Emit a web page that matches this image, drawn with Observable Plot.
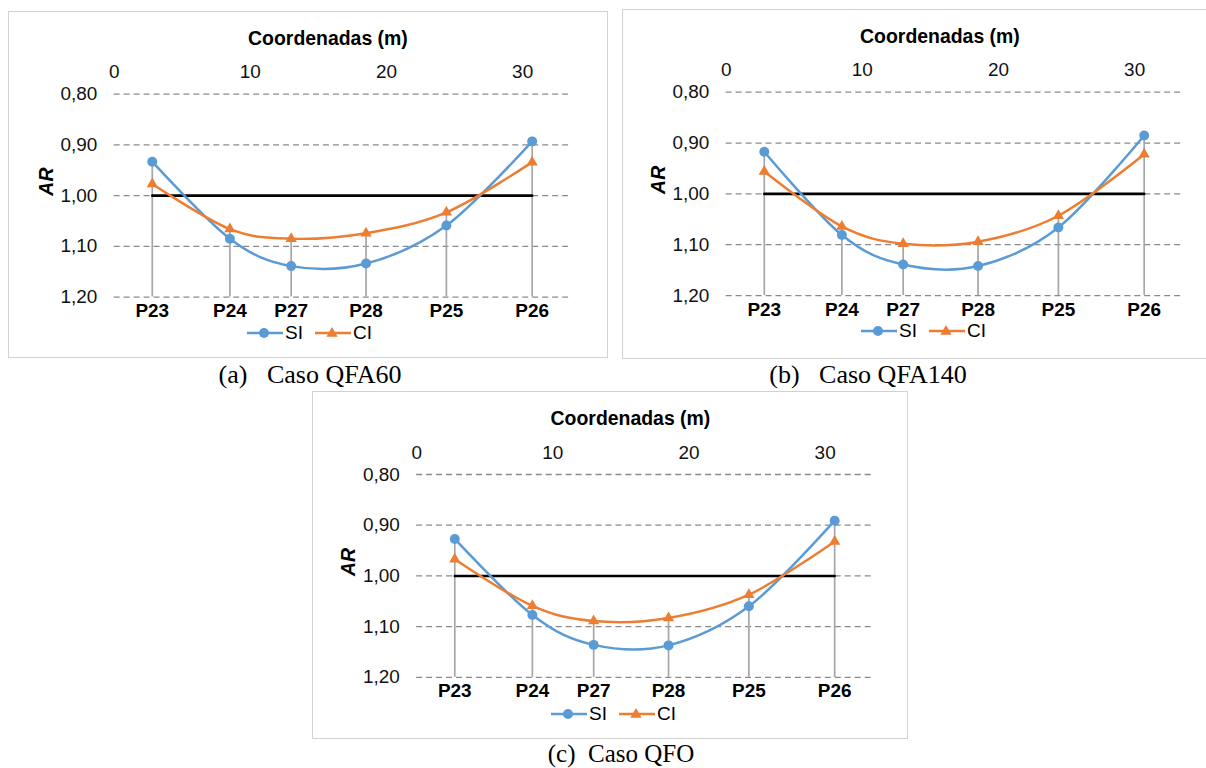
<!DOCTYPE html>
<html>
<head>
<meta charset="utf-8">
<script src="https://cdn.jsdelivr.net/npm/d3@7"></script>
<script src="https://cdn.jsdelivr.net/npm/@observablehq/plot@0.6"></script>
<style>
  html, body { margin: 0; padding: 0; background: #fff; }
  body { width: 1206px; height: 768px; overflow: hidden; position: relative; }
  .panel { position: absolute; border: 1px solid #d2d2d2; box-sizing: border-box; background: #fff; }
  .panel > svg { position: absolute; left: 0; top: 0; }
  .legend { position: absolute; display: flex; align-items: center; font-family: "Liberation Sans", Arial, sans-serif; font-size: 19px; color: #000; height: 20px; }
  .legend svg { display: block; }
  .legend span { margin-left: 2px; margin-right: 12px; line-height: 20px; }
  .caption { position: absolute; font-family: "Liberation Serif", "Times New Roman", serif; font-size: 26px; line-height: 20px; white-space: pre; color: #000; transform: translateX(-50%); }
</style>
</head>
<body>
<script>
// ---- data ----
const categories = ["P23", "P24", "P27", "P28", "P25", "P26"];
const coords = [2.8, 8.5, 13.0, 18.5, 24.4, 30.7];      // Coordenadas (m)
const siA = [0.933, 1.085, 1.139, 1.134, 1.059, 0.893];  // Caso QFA60, SI
const ciA = [0.977, 1.066, 1.085, 1.074, 1.033, 0.934];  // Caso QFA60, CI
const siB = [0.917, 1.081, 1.139, 1.142, 1.066, 0.885];  // Caso QFA140, SI
const ciB = [0.956, 1.064, 1.098, 1.094, 1.043, 0.922];  // Caso QFA140, CI
const siC = [0.927, 1.077, 1.136, 1.137, 1.060, 0.891];  // Caso QFO, SI
const ciC = [0.967, 1.059, 1.089, 1.083, 1.037, 0.932];  // Caso QFO, CI
const refValue = 1.00;
const yTicks = [0.80, 0.90, 1.00, 1.10, 1.20];
const xTicks = [0, 10, 20, 30];
const xDomain = [0, 33.45];
const yDomain = [0.80, 1.20];
const seriesNames = ["SI", "CI"];
const captions = ["(a)   Caso QFA60", "(b)   Caso QFA140", "(c)  Caso QFO"];
const xTitle = "Coordenadas (m)";
const yTitle = "AR";

const BLUE = "#5B9BD5", ORANGE = "#ED7D31";
const FONT = "'Liberation Sans', Arial, sans-serif";
const FS = 19;
const fmt = d => d.toFixed(2).replace(".", ",");

function chart(si, ci, m) {
  const rows = categories.map((c, i) => ({cat: c, x: coords[i], si: si[i], ci: ci[i], top: Math.min(si[i], ci[i])}));
  const ref = [{x: coords[0], y: refValue}, {x: coords[coords.length - 1], y: refValue}];
  return Plot.plot({
    width: m.w, height: m.h,
    marginLeft: m.l, marginRight: m.w - m.l - m.pw, marginTop: m.t, marginBottom: m.h - m.t - m.ph,
    x: {domain: xDomain},
    y: {domain: yDomain, reverse: true},
    style: {fontFamily: FONT, fontSize: FS + "px", color: "#111", background: "transparent", overflow: "visible"},
    marks: [
      Plot.gridY(yTicks, {stroke: "#8a8a8a", strokeOpacity: 1, strokeWidth: 1.3, strokeDasharray: "6,4"}),
      Plot.axisY(yTicks, {anchor: "left", tickSize: 0, tickPadding: 17, tickFormat: fmt, label: null, fontSize: FS}),
      Plot.axisX(xTicks, {anchor: "top", tickSize: 0, tickPadding: 16, label: null, fontSize: FS}),
      Plot.ruleX(rows, {x: "x", y1: "top", y2: yDomain[1], stroke: "#a6a6a6", strokeWidth: 1.7}),
      Plot.line(ref, {x: "x", y: "y", stroke: "#000", strokeWidth: 2.6}),
      Plot.line(rows, {x: "x", y: "si", stroke: BLUE, strokeWidth: 2.5, curve: "cardinal"}),
      Plot.line(rows, {x: "x", y: "ci", stroke: ORANGE, strokeWidth: 2.5, curve: "cardinal"}),
      Plot.dot(rows, {x: "x", y: "si", r: 5, fill: BLUE, symbol: "circle"}),
      Plot.dot(rows, {x: "x", y: "ci", r: 4.2, fill: ORANGE, symbol: "triangle"}),
      Plot.text(rows, {x: "x", y: () => yDomain[1], text: "cat", dy: 14, lineAnchor: "middle", fontWeight: "bold", fontSize: FS, fill: "#000"}),
      Plot.text([xTitle], {frameAnchor: "top", dy: -56, dx: -14, lineAnchor: "middle", fontWeight: "bold", fontSize: 19.5, fill: "#000"}),
      Plot.text([yTitle], {frameAnchor: "left", dx: -68, rotate: -90, lineAnchor: "middle", fontWeight: "bold", fontStyle: "italic", fontSize: 19.5, fill: "#000"})
    ]
  });
}

function legend() {
  const div = document.createElement("div");
  div.className = "legend";
  div.innerHTML =
    `<svg width="36" height="14"><line x1="0" y1="7" x2="36" y2="7" stroke="${BLUE}" stroke-width="2.5"/><circle cx="17" cy="7" r="5" fill="${BLUE}"/></svg><span>${seriesNames[0]}</span>` +
    `<svg width="36" height="14"><line x1="0" y1="7" x2="36" y2="7" stroke="${ORANGE}" stroke-width="2.5"/><path d="${d3.symbol(d3.symbolTriangle, Math.PI * 4.2 * 4.2)()}" transform="translate(17,7.5)" fill="${ORANGE}"/></svg><span>${seriesNames[1]}</span>`;
  return div;
}

const panels = [
  {left: 8, top: 11, w: 600, h: 347, l: 105, t: 82, pw: 457, ph: 203.5, si: siA, ci: ciA},
  {left: 622, top: 9, w: 600, h: 350, l: 103, t: 82, pw: 457, ph: 204, si: siB, ci: ciB},
  {left: 312, top: 391, w: 596, h: 348, l: 103.5, t: 82.3, pw: 457, ph: 203.5, si: siC, ci: ciC}
];
const captionPos = [{x: 310, y: 365}, {x: 868, y: 365}, {x: 621, y: 744}];

panels.forEach((p, i) => {
  const div = document.createElement("div");
  div.className = "panel";
  Object.assign(div.style, {left: p.left + "px", top: p.top + "px", width: p.w + "px", height: p.h + "px"});
  div.appendChild(chart(p.si, p.ci, p));
  const lg = legend();
  lg.style.left = "238px";
  lg.style.top = (p.top === 391 ? 312 : 311) + "px";
  div.appendChild(lg);
  document.body.appendChild(div);

  const cap = document.createElement("div");
  cap.className = "caption";
  cap.textContent = captions[i];
  cap.style.left = captionPos[i].x + "px";
  cap.style.top = captionPos[i].y + "px";
  if (i === 2) cap.style.fontSize = "25px";
  document.body.appendChild(cap);
});
</script>
</body>
</html>
